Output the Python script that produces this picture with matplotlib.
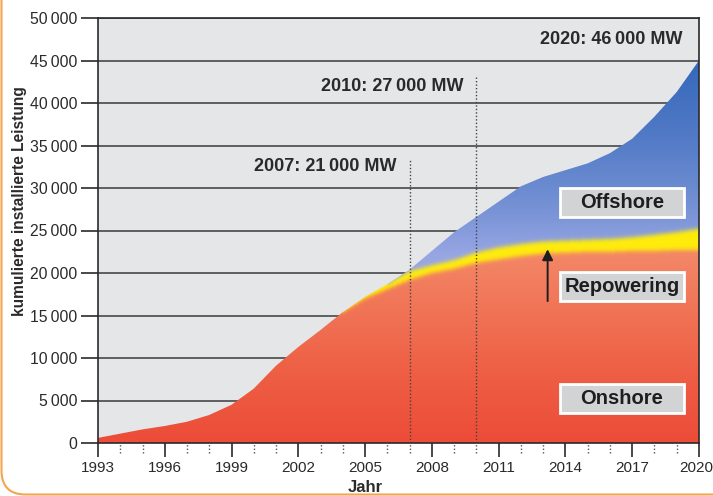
import numpy as np
import matplotlib
matplotlib.use("Agg")
import matplotlib.pyplot as plt
from matplotlib.patches import Polygon, Rectangle, FancyBboxPatch
from matplotlib.transforms import IdentityTransform, ScaledTranslation

# cumulative installed wind power in Germany (MW)
years = np.arange(1993, 2021)
onshore = [600, 1100, 1600, 2000, 2500, 3300, 4500, 6400, 9100, 11300, 13300, 15400,
           17000, 18100, 19200, 20000, 20500, 21200, 21600, 22000, 22300, 22400,
           22500, 22500, 22600, 22600, 22700, 22700]
repowering = [0] * 12 + [200, 600, 1000, 900, 1000, 1200, 1400, 1400, 1400, 1400,
                         1400, 1500, 1600, 1900, 2100, 2500]
offshore = [0] * 14 + [200, 1700, 3300, 4200, 5400, 6800, 7600, 8300, 9000, 10100,
                       11600, 13900, 16500, 19800]

layer_names = ["Offshore", "Repowering", "Onshore"]
milestones = ["2007: 21\u2009000 MW", "2010: 27\u2009000 MW", "2020: 46\u2009000 MW"]
major_years = list(range(1993, 2021, 3))
minor_years = [y for y in range(1993, 2021) if y not in major_years]
yticks = list(range(0, 50001, 5000))

DARK = "#2a2a2a"
FONT = ["Liberation Sans", "DejaVu Sans"]

fig = plt.figure(figsize=(7.13, 4.96), dpi=100)
ax = fig.add_axes([98 / 713, 53 / 496, 601 / 713, 425 / 496])
ax.set_facecolor("#e5e6e8")

b1 = np.array(onshore, float)
b2 = b1 + np.array(repowering)
b3 = b2 + np.array(offshore)

# colour field for the stacked areas, with soft edges between layers
nx, ny = 700, 1000
gx = np.linspace(1993, 2020, nx)
gy = np.linspace(0, 50000, ny)
B1 = np.interp(gx, years, b1)[None, :]
B2 = np.interp(gx, years, b2)[None, :]
B3 = np.interp(gx, years, b3)[None, :]
Yc = np.minimum(gy[:, None], B3 - 1)


def ramp(y, stops, cols):
    cols = np.array(cols) / 255
    return np.stack([np.interp(y, stops, cols[:, i]) for i in range(3)], axis=-1)


red = ramp(Yc, [0, 8000, 22000], [(236, 76, 56), (238, 94, 68), (243, 134, 102)])
blue = ramp(Yc, [22000, 28000, 36000, 45000],
            [(152, 166, 228), (116, 145, 212), (82, 122, 198), (52, 104, 186)])
yellow = np.array([255, 236, 12]) / 255
img = np.where((Yc < B1)[..., None], red,
               np.where((Yc < B2)[..., None], yellow, blue))
k = np.exp(-0.5 * (np.arange(-15, 16) / 5.0) ** 2)
k /= k.sum()
pad = np.pad(img, ((15, 15), (0, 0), (0, 0)), mode="edge")
img = sum(w * pad[i:i + ny] for i, w in enumerate(k))

im = ax.imshow(img, origin="lower", extent=[1993, 2020, 0, 50000], aspect="auto",
               interpolation="bilinear", zorder=2)
verts = np.column_stack([np.r_[years, years[::-1]], np.r_[b3, np.zeros(len(years))]])
clip = Polygon(verts, closed=True, facecolor="none", edgecolor="none",
               transform=ax.transData)
ax.add_patch(clip)
im.set_clip_path(clip)

ax.set_xlim(1993, 2020)
ax.set_ylim(0, 50000)

# axes, grid, ticks
ax.set_axisbelow(True)
ax.yaxis.grid(True, color="#3a3a3a", lw=1.1)
for s in ax.spines.values():
    s.set_color(DARK)
    s.set_linewidth(1.2)
    s.set_zorder(4)
ax.set_yticks(yticks)
ax.set_yticklabels(["0" if v == 0 else f"{v // 1000}\u2009000" for v in yticks])
ax.set_xticks(major_years)
ax.set_xticklabels([str(y) for y in major_years])
ax.tick_params(axis="y", length=12, width=1.2, color=DARK, pad=3, labelsize=11.3,
               labelcolor=DARK)
ax.tick_params(axis="x", length=10, width=1.2, color=DARK, pad=3, labelsize=11,
               labelcolor=DARK)
for lab in ax.get_xticklabels() + ax.get_yticklabels():
    lab.set_family(FONT)
last = ax.get_xticklabels()[-1]
last.set_transform(last.get_transform() + ScaledTranslation(-3 / 100, 0, fig.dpi_scale_trans))
ax.vlines(minor_years, -10 / 425, 0, transform=ax.get_xaxis_transform(),
          clip_on=False, colors="#555555", lw=1, linestyles=(0, (1, 1.5)))

# milestone lines and labels
ax.vlines([2007], 0, 33300, colors="#444444", lw=1, linestyles=(0, (1, 1.5)), zorder=3)
ax.vlines([2010], 0, 43100, colors="#444444", lw=1, linestyles=(0, (1, 1.5)), zorder=3)
for txt, x, y in zip(milestones, [2006.4, 2009.4, 2019.28], [32500, 42000, 47500]):
    ax.text(x, y, txt, ha="right", va="center", fontsize=13, fontweight="bold",
            family=FONT, color=DARK, zorder=5)

# layer label boxes
for name, y0 in zip(layer_names, [26600, 16700, 3500]):
    ax.add_patch(Rectangle((2013.75, y0), 5.58, 3400, facecolor="#d2d3d5",
                           edgecolor="white", lw=2, zorder=5))
    ax.text(2016.54, y0 + 1700, name, ha="center", va="center", fontsize=14.5,
            fontweight="bold", family=FONT, color="#1e1e1e", zorder=6)

ax.annotate("", xy=(2013.2, 22800), xytext=(2013.2, 16700),
            arrowprops=dict(arrowstyle="-|>", color="#1e1e1e", lw=1.4,
                            mutation_scale=16, shrinkA=0, shrinkB=0), zorder=6)

fig.text(20 / 713, 1 - 201 / 496, "kumulierte installierte Leistung", rotation=90,
         ha="center", va="center", fontsize=11.2, fontweight="bold", family=FONT,
         color=DARK)
fig.text(365 / 713, 1 - 488 / 496, "Jahr", ha="center", va="center", fontsize=12,
         fontweight="bold", family=FONT, color=DARK)

# orange rounded frame, only its left and bottom edges are inside the picture
fig.patches.append(FancyBboxPatch((1.5, 1.5), 900, 700,
                                  boxstyle="round,pad=0,rounding_size=24",
                                  transform=IdentityTransform(), facecolor="none",
                                  edgecolor="#f4a64f", lw=1.5))

fig.savefig("out.png", dpi=100)
